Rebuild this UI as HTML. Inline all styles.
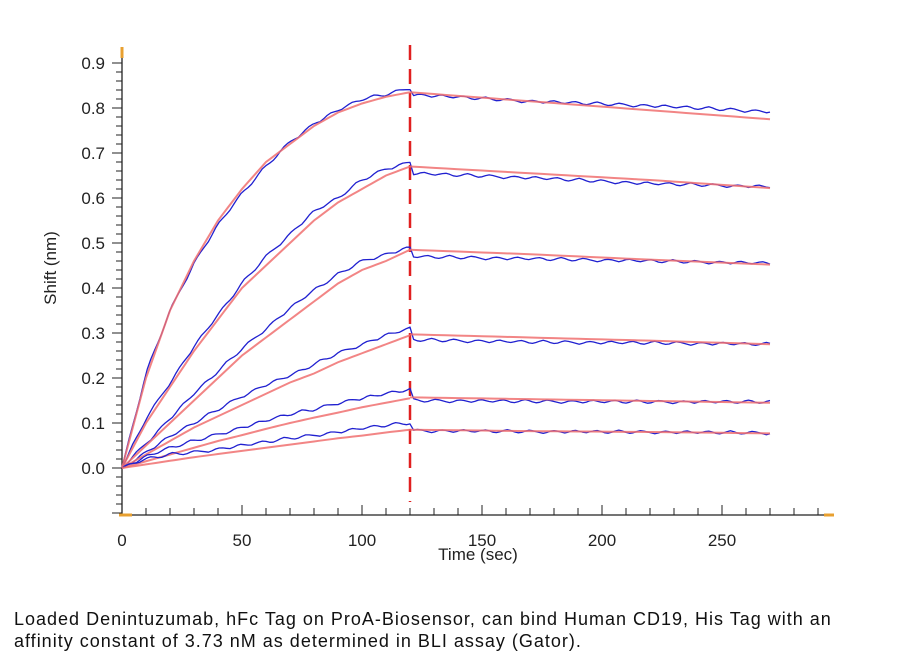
<!DOCTYPE html>
<html><head><meta charset="utf-8"><style>
body{margin:0;background:#fff;width:900px;height:664px;overflow:hidden;font-family:"Liberation Sans",Arial,sans-serif}
svg{position:absolute;left:0;top:0}
.cap{position:absolute;left:14px;top:608px;font-size:18px;letter-spacing:1px;line-height:22px;color:#111;width:880px;white-space:nowrap}
</style></head><body>
<svg id="chart" width="900" height="664" viewBox="0 0 900 664"></svg>
<div class="cap">Loaded Denintuzumab, hFc Tag on ProA-Biosensor, can bind Human CD19, His Tag with an<br>affinity constant of 3.73 nM as determined in BLI assay (Gator).</div>
<script>
const assocTimes=[0,10,20,30,40,50,60,70,80,90,100,110,120];
const assocFit=[
[0,0.2,0.35,0.46,0.55,0.62,0.68,0.72,0.76,0.79,0.81,0.825,0.835],
[0,0.1,0.18,0.26,0.33,0.40,0.45,0.50,0.55,0.59,0.62,0.65,0.67],
[0,0.05,0.1,0.15,0.2,0.25,0.29,0.33,0.37,0.41,0.44,0.46,0.485],
[0,0.03,0.06,0.09,0.115,0.14,0.165,0.19,0.21,0.235,0.255,0.275,0.295],
[0,0.015,0.03,0.045,0.06,0.073,0.087,0.1,0.112,0.123,0.135,0.145,0.155],
[0,0.008,0.016,0.024,0.031,0.038,0.045,0.052,0.059,0.066,0.072,0.079,0.085]];
const dissTimes=[120,170,220,270];
const dissFit=[
[0.835,0.815,0.795,0.775],[0.67,0.655,0.64,0.622],[0.485,0.475,0.463,0.452],
[0.297,0.29,0.283,0.275],[0.157,0.153,0.149,0.145],[0.085,0.082,0.08,0.077]];
const assocBlue=[
[0,0.21,0.35,0.455,0.54,0.61,0.67,0.725,0.765,0.795,0.82,0.83,0.845],
[0,0.11,0.19,0.27,0.34,0.41,0.47,0.52,0.57,0.60,0.64,0.665,0.68],
[0,0.055,0.11,0.165,0.215,0.265,0.31,0.355,0.395,0.43,0.46,0.475,0.49],
[0,0.035,0.07,0.1,0.13,0.16,0.185,0.205,0.23,0.255,0.275,0.295,0.31],
[0,0.025,0.045,0.06,0.075,0.09,0.105,0.12,0.13,0.145,0.155,0.165,0.175],
[0,0.02,0.03,0.035,0.042,0.05,0.058,0.066,0.073,0.08,0.088,0.095,0.1]];
const dissBlue=[
[0.83,0.815,0.805,0.792],[0.655,0.645,0.632,0.625],[0.47,0.465,0.46,0.455],
[0.285,0.28,0.278,0.275],[0.15,0.148,0.147,0.147],[0.083,0.081,0.08,0.078]];
const wiggle=[0,0.002,0.003,0.001,-0.002,-0.003,-0.001,0.002,0.004,0.002,-0.001,-0.003,-0.002,0.001,0.003,0.002,0,-0.002,-0.004,-0.002,0.001,0.002,0.001,-0.001,-0.003,-0.001,0.002,0.003,0.001,-0.001,-0.002];
const xTicks=[0,50,100,150,200,250];
const yTicks=[0.0,0.1,0.2,0.3,0.4,0.5,0.6,0.7,0.8,0.9];
const X=t=>122+t*2.4, Y=v=>468-v*450;
const svg=document.getElementById('chart'),NS='http://www.w3.org/2000/svg';
function mk(tag,attrs,parent){const e=document.createElementNS(NS,tag);for(const k in attrs)e.setAttribute(k,attrs[k]);(parent||svg).appendChild(e);return e;}
function interp(ts,vs,t){for(let i=0;i<ts.length-1;i++){if(t<=ts[i+1]){const f=(t-ts[i])/(ts[i+1]-ts[i]);return vs[i]+f*(vs[i+1]-vs[i]);}}return vs[vs.length-1];}
let e=mk('line',{x1:122,y1:50,x2:122,y2:515,stroke:'#222','stroke-width':1.3});

e=mk('line',{x1:122,y1:515,x2:830,y2:515,stroke:'#222','stroke-width':1.3});

for(let v=-0.1;v<=0.92;v+=0.02){const y=Y(v);const maj=Math.abs(Math.round(v*10)-v*10)<0.01;mk('line',{x1:maj?112:116,y1:y,x2:122,y2:y,stroke:'#222','stroke-width':1});}
for(let t=0;t<=295;t+=10){const maj=t%50===0;mk('line',{x1:X(t),y1:515,x2:X(t),y2:maj?505:508,stroke:'#222','stroke-width':1});}
yTicks.forEach(v=>{const t=mk('text',{x:105,y:Y(v)+6,'text-anchor':'end','font-size':17,fill:'#222'});t.textContent=v.toFixed(1);
});
xTicks.forEach(v=>{const t=mk('text',{x:X(v),y:546,'text-anchor':'middle','font-size':17,fill:'#222'});t.textContent=v;
});
e=mk('text',{x:478,y:560,'text-anchor':'middle','font-size':17,fill:'#222'});e.textContent='Time (sec)';

e=mk('text',{x:0,y:0,'text-anchor':'middle','font-size':17,fill:'#222',transform:'translate(56,268) rotate(-90)'});e.textContent='Shift (nm)';

[[122,47,122,58],[119,515,132,515],[824,515,834,515]].forEach(c=>mk('line',{x1:c[0],y1:c[1],x2:c[2],y2:c[3],stroke:'#e8a030','stroke-width':3}));
e=mk('line',{x1:X(120),y1:45,x2:X(120),y2:502,stroke:'#e02020','stroke-width':2.5,'stroke-dasharray':'15,9'});

for(let s=0;s<6;s++){
 let pb=[];let k=0;
 for(let t=0;t<=270;t+=1.5,k++){const v=t<=120?interp(assocTimes,assocBlue[s],t):interp(dissTimes,dissBlue[s],t);
  const w=t===0?0:wiggle[(k+s*5)%wiggle.length];pb.push(X(t).toFixed(1)+','+Y(v+w).toFixed(1));}
 e=mk('polyline',{points:pb.join(' '),fill:'none',stroke:'#2020d0','stroke-width':1.3,'stroke-linejoin':'round'});
 
 let pa=[];for(let t=0;t<=120;t+=2)pa.push(X(t)+','+Y(interp(assocTimes,assocFit[s],t)));
 let pd=[];for(let t=120;t<=270;t+=5)pd.push(X(t)+','+Y(interp(dissTimes,dissFit[s],t)));
 e=mk('polyline',{points:pa.join(' '),fill:'none',stroke:'#f07070','stroke-width':2,'stroke-opacity':0.85});
 
 e=mk('polyline',{points:pd.join(' '),fill:'none',stroke:'#f07070','stroke-width':2,'stroke-opacity':0.85});
 
}
</script>
</body></html>
